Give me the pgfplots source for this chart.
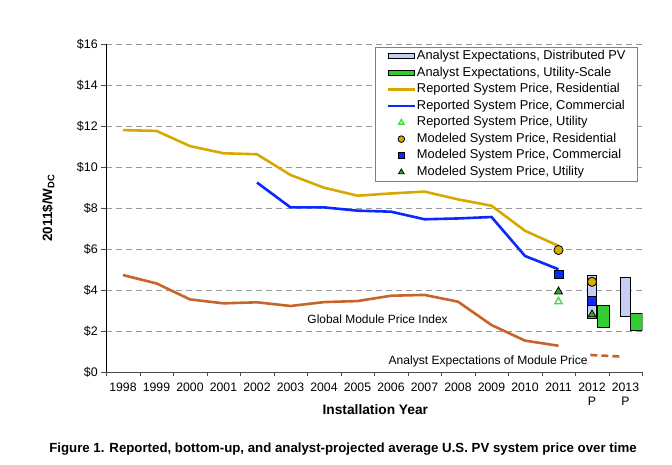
\documentclass[border=0pt]{standalone}
\usepackage{pgfplots}
\pgfplotsset{compat=1.18}
\usepackage{fontspec}
\setmainfont{Liberation Sans}
\definecolor{resgold}{HTML}{D8A800}
\definecolor{comblue}{HTML}{0A28FF}
\definecolor{modorange}{HTML}{C8642A}
\definecolor{utilgreen}{HTML}{33CC33}
\definecolor{lightgreen}{HTML}{44DD44}
\definecolor{distblue}{HTML}{C6CEF5}
\definecolor{gridgray}{HTML}{999999}
\pgfplotsset{
  linelegend/.style={legend image code/.code={\draw[mark repeat=2,mark phase=2,##1] plot coordinates {(0cm,0cm)(0.47cm,0cm)(0.94cm,0cm)};}},
  boxlegend/.style={legend image code/.code={\draw[##1] (0cm,-0.08cm) rectangle (0.94cm,0.1cm);}},
}
\begin{document}
\begin{tikzpicture}
\useasboundingbox (0bp,0bp) rectangle (672bp,465bp);
\begin{axis}[
  at={(106.25bp,93bp)}, anchor=south west,
  scale only axis, width=536bp, height=328bp,
  xmin=1997.5, xmax=2013.5, ymin=0, ymax=16,
  enlargelimits=false,
  axis x line*=bottom, axis y line*=left,
  x axis line style={draw=black!70, -}, y axis line style={draw=black, -},
  ytick={0,2,...,16},
  yticklabels={\$0,\$2,\$4,\$6,\$8,\$10,\$12,\$14,\$16},
  yticklabel style={font=\fontsize{12.5}{14}\selectfont},
  y tick style={draw=black!70},
  ytick align=outside, major tick length=5bp,
  xtick={1998,...,2013},
  xticklabels={1998,1999,2000,2001,2002,2003,2004,2005,2006,2007,2008,2009,2010,2011,{2012\\P},{2013\\P}},
  xticklabel style={font=\fontsize{12.3}{14}\selectfont, align=center, anchor=north, yshift=-2bp},
  major x tick style={draw=none},
  minor xtick={1997.5,1998.5,...,2013.5},
  minor x tick style={draw=black!70},
  minor tick length=4bp,
  xtick align=outside,
  ymajorgrids,
  grid style={draw=gridgray, dash pattern=on 6bp off 4bp, line width=0.8bp},
  xlabel={\textbf{Installation Year}},
  xlabel style={font=\fontsize{13.8}{15}\selectfont, at={(axis description cs:0.502,-0.116)}, anchor=center},
  ylabel={\textbf{2011\$/W\textsubscript{DC}}},
  ylabel style={font=\fontsize{13.5}{15}\selectfont, at={(axis description cs:-0.108,0.5)}, anchor=center},
  legend cell align=left,
  legend style={at={(0.992,0.991)}, anchor=north east, draw=black!50, line width=0.8bp,
    font=\fontsize{12.9}{14}\selectfont, row sep=2bp, inner xsep=11bp, inner ysep=2bp,
    nodes={inner sep=1bp, text height=9.5bp, text depth=3bp}},
  linelegend,
]
% Analyst expectations, distributed PV
\addplot[fill=distblue, draw=black, line width=0.8bp, boxlegend]
  coordinates {(2011.86,2.6)(2012.14,2.6)(2012.14,4.7)(2011.86,4.7)} -- cycle;
\addlegendentry{Analyst Expectations, Distributed PV}
\addplot[fill=distblue, draw=black, line width=0.8bp, forget plot]
  coordinates {(2012.86,2.73)(2013.16,2.73)(2013.16,4.62)(2012.86,4.62)} -- cycle;
% Analyst expectations, utility-scale
\addplot[fill=utilgreen, draw=black, line width=0.8bp, boxlegend]
  coordinates {(2012.16,2.18)(2012.51,2.18)(2012.51,3.27)(2012.16,3.27)} -- cycle;
\addlegendentry{Analyst Expectations, Utility-Scale}
\addplot[fill=utilgreen, draw=black, line width=0.8bp, forget plot]
  coordinates {(2013.16,2.05)(2013.51,2.05)(2013.51,2.86)(2013.16,2.86)} -- cycle;
% Reported residential
\addplot[resgold, line width=2.6bp, no marks] coordinates {
 (1998,11.80)(1999,11.76)(2000,11.02)(2001,10.67)(2002,10.62)(2003,9.61)(2004,8.99)
 (2005,8.60)(2006,8.71)(2007,8.80)(2008,8.42)(2009,8.11)(2010,6.89)(2011,6.15)};
\addlegendentry{Reported System Price, Residential}
% Reported commercial
\addplot[comblue, line width=2.6bp, no marks] coordinates {
 (2002,9.24)(2003,8.03)(2004,8.03)(2005,7.87)(2006,7.82)(2007,7.45)(2008,7.49)
 (2009,7.56)(2010,5.66)(2011,5.01)};
\addlegendentry{Reported System Price, Commercial}
% Reported utility
\addplot[only marks, mark=triangle, mark size=4.2bp, draw=lightgreen, line width=1.4bp,
  legend image post style={mark size=3bp}]
  coordinates {(2011,3.43)};
\addlegendentry{Reported System Price, Utility}
% Module price index
\addplot[modorange, line width=2.6bp, no marks, forget plot] coordinates {
 (1998,4.73)(1999,4.32)(2000,3.54)(2001,3.35)(2002,3.40)(2003,3.22)(2004,3.41)
 (2005,3.46)(2006,3.72)(2007,3.76)(2008,3.43)(2009,2.29)(2010,1.53)(2011,1.28)};
% Analyst expectations of module price
\addplot[modorange, line width=2.6bp, no marks, dash pattern=on 7bp off 4bp, forget plot]
  coordinates {(2011.95,0.83)(2012.9,0.75)};
% Modeled residential
\addplot[only marks, mark=*, mark size=4.6bp, fill=resgold, draw=black, line width=0.8bp,
  legend image post style={mark size=3.3bp}]
  coordinates {(2011,5.95)(2012,4.40)};
\addlegendentry{Modeled System Price, Residential}
% Modeled commercial
\addplot[only marks, mark=square*, mark size=4.4bp, fill=comblue, draw=black, line width=0.8bp,
  legend image post style={mark size=3bp}]
  coordinates {(2011,4.76)(2012,3.46)};
\addlegendentry{Modeled System Price, Commercial}
% Modeled utility
\addplot[only marks, mark=triangle*, mark size=4.6bp, fill=utilgreen!85!black, draw=black, line width=0.8bp,
  legend image post style={mark size=3.2bp}]
  coordinates {(2011,3.92)(2012,2.80)};
\addlegendentry{Modeled System Price, Utility}
\node[font=\fontsize{12}{14}\selectfont] at (axis cs:2005.6,2.59) {Global Module Price Index};
\node[font=\fontsize{12.1}{14}\selectfont, fill=white, inner sep=1bp] at (axis cs:2008.9,0.5) {Analyst Expectations of Module Price};
\end{axis}
\node[font=\bfseries\fontsize{13.3}{15}\selectfont] at (343bp,16bp) {Figure 1. Reported, bottom-up, and analyst-projected average U.S. PV system price over time};
\end{tikzpicture}
\end{document}
